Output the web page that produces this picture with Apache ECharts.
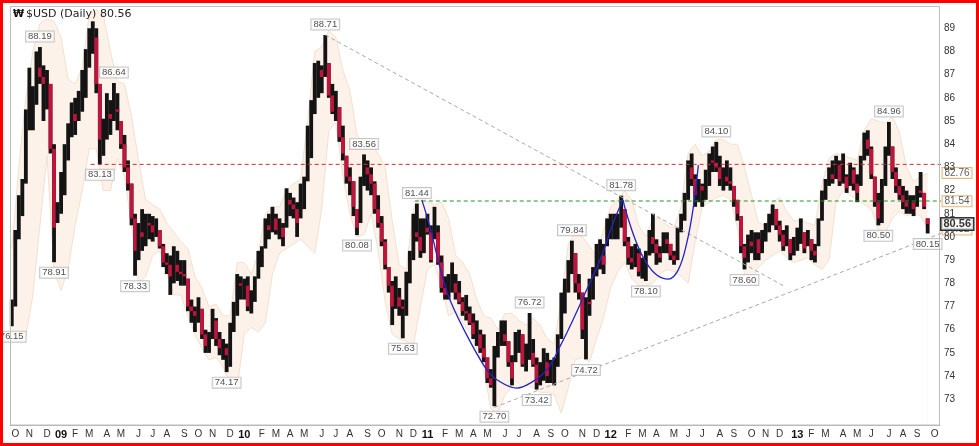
<!DOCTYPE html>
<html><head><meta charset="utf-8">
<script src="https://cdn.jsdelivr.net/npm/echarts@6/dist/echarts.min.js"></script>
<style>html,body{margin:0;padding:0;background:#fff}#c{width:979px;height:446px}</style>
</head><body><div id="c"></div>
<script>
// ---------- data ----------
const weekStart = '2008-09-22';      // Monday of the first weekly bar
const padWeeks = 3;                  // empty weeks to the right of the last bar
const monthLetters = ['J','F','M','A','M','J','J','A','S','O','N','D'];
const yTicks = [73,74,75,76,77,78,79,80,81,82,83,84,85,86,87,88,89];
const firstOpen = 76.3;

const weekHigh = [
77.3,80.3,81.8,82.5,85.5,87.3,86.5,88.0,88.19,87.4,
87.2,86.6,84.0,81.5,82.8,84.0,84.9,85.8,86.0,86.3,
87.2,88.1,89.0,89.3,89.0,86.6,85.1,86.2,85.9,86.64,
86.2,85.0,84.4,83.3,82.3,81.0,80.6,81.2,81.0,81.0,
80.9,80.8,80.3,79.7,79.3,79.2,79.6,79.4,79.0,79.0,
78.2,77.3,77.0,77.4,76.9,76.0,75.9,76.9,76.5,75.9,
75.6,75.4,76.3,77.2,78.4,78.3,78.2,78.3,77.7,78.3,
79.4,79.6,80.8,81.0,81.3,81.0,80.8,80.6,82.1,81.9,
81.7,81.5,82.3,82.6,84.8,85.9,87.5,87.6,87.4,88.71,
87.5,86.6,86.3,85.6,84.8,83.5,83.0,82.4,81.2,82.6,
83.56,83.3,83.0,82.4,81.8,80.9,79.9,78.7,78.1,78.3,
77.8,77.3,78.5,79.4,81.0,81.44,80.8,80.8,81.0,80.5,
81.3,80.5,79.2,78.3,78.4,78.9,78.4,78.1,77.4,77.5,
77.0,76.7,76.4,76.0,75.8,74.8,74.3,75.3,75.9,76.4,
76.4,75.5,74.9,75.9,76.0,75.8,75.4,76.72,75.6,74.8,
74.6,75.2,75.0,74.7,74.8,75.8,77.6,78.2,79.0,79.84,
79.3,78.4,77.6,77.4,78.2,78.7,79.7,79.9,79.7,80.8,
81.0,81.0,81.0,81.78,81.2,80.0,79.6,79.7,79.5,79.1,
79.4,80.3,81.0,79.9,79.6,80.2,80.2,79.7,79.4,80.4,
81.0,81.9,83.3,83.6,82.7,82.5,82.3,82.9,83.6,83.9,
84.10,83.5,83.0,83.3,83.0,82.2,81.6,80.9,79.7,80.1,
80.3,80.2,80.2,80.3,80.6,81.0,81.4,81.2,80.7,80.3,
80.5,79.9,80.0,80.4,80.8,80.2,80.3,79.9,79.7,80.8,
82.0,82.5,83.0,83.3,83.5,83.3,83.6,82.7,83.2,83.0,
82.7,83.5,84.5,84.6,83.9,82.6,81.9,82.5,83.9,84.96,
83.9,83.0,82.5,82.2,82.0,81.8,81.8,82.2,82.8,81.9,
80.8];

const weekLow = [
76.15,77.0,79.9,80.9,82.3,84.6,84.6,85.7,86.6,85.0,
85.5,83.6,78.91,80.6,81.0,81.8,83.3,84.3,84.4,85.0,
85.4,86.0,87.3,87.9,86.2,83.13,83.5,84.2,84.4,85.0,
84.6,83.8,82.8,82.0,80.5,78.33,79.0,79.4,79.6,79.9,
79.8,80.0,79.5,78.7,78.4,77.5,78.0,78.1,77.9,77.9,
76.8,76.3,75.9,76.3,75.6,75.0,75.0,75.6,75.3,74.9,
74.7,74.17,74.4,75.9,76.6,77.3,77.3,76.8,76.7,77.2,
78.2,78.7,79.5,79.9,80.2,80.1,79.9,79.6,80.4,80.9,
80.8,80.0,80.8,81.2,82.4,83.4,85.3,86.0,86.2,86.9,
86.0,85.3,85.0,84.1,83.3,82.3,81.8,80.9,80.08,80.6,
82.2,82.0,81.8,81.0,80.4,79.6,78.6,77.6,76.2,76.9,
76.6,75.63,76.6,78.0,79.0,79.8,79.1,79.3,80.1,78.9,
79.9,78.8,77.6,77.3,77.3,77.6,77.3,77.1,76.6,76.4,
76.2,75.6,75.3,75.0,74.6,73.7,73.5,72.70,74.8,75.3,
75.3,74.4,73.6,74.6,75.0,74.4,74.2,74.7,74.4,73.42,
73.6,73.8,73.7,73.7,73.6,74.4,75.6,76.7,77.6,78.4,
77.6,77.3,75.6,74.72,76.6,77.3,78.3,78.6,78.4,79.6,
79.9,79.9,79.9,80.4,79.6,78.8,78.6,78.7,78.3,78.2,
78.10,79.2,79.3,78.8,78.9,79.3,79.3,79.0,78.8,79.0,
80.2,80.7,81.6,82.2,81.3,81.5,81.3,81.6,82.2,82.8,
82.8,82.2,82.0,82.2,82.0,81.3,80.7,79.3,78.60,78.9,
79.3,79.0,79.0,79.3,79.8,80.2,80.5,80.3,79.8,79.4,
79.6,79.0,79.2,79.4,79.7,79.3,79.6,79.0,78.9,79.6,
80.7,81.6,82.2,82.3,82.5,82.2,82.3,81.9,82.2,82.0,
81.5,82.2,83.3,83.5,82.5,81.3,80.50,80.6,82.2,83.5,
82.5,81.9,81.6,81.2,81.0,81.0,80.9,81.3,81.7,81.2,
80.15];

const weekClose = [
77.0,80.0,81.5,82.3,85.2,85.5,86.0,87.3,86.9,86.6,
86.6,83.8,80.4,81.2,82.5,83.5,84.5,85.3,85.0,86.0,
86.5,87.8,88.6,88.6,86.6,84.2,84.5,85.3,85.1,85.5,
85.4,84.0,83.0,82.3,80.8,79.4,80.2,80.0,80.6,80.5,
80.2,80.4,79.6,78.9,78.8,78.3,78.8,78.5,78.4,78.3,
77.0,76.8,76.6,76.9,75.8,75.3,75.5,76.4,75.6,75.2,
75.2,74.9,76.0,76.9,78.0,77.9,77.9,77.0,77.4,78.0,
79.2,79.5,80.5,80.3,80.8,80.3,80.4,80.0,81.6,81.4,
81.2,80.6,82.0,82.4,84.6,85.5,86.5,87.2,86.9,88.2,
86.1,85.4,85.7,84.3,83.6,82.6,82.4,81.3,80.4,82.3,
83.0,82.7,82.3,81.2,80.6,79.8,78.8,77.9,77.0,77.4,
77.0,76.9,78.1,79.2,80.2,80.0,79.4,80.4,80.2,79.0,
80.2,78.9,77.8,77.5,78.0,78.0,77.6,77.2,76.8,76.7,
76.3,75.8,75.8,75.2,74.8,73.9,73.6,75.0,75.5,75.8,
75.5,74.6,73.9,75.6,75.8,74.5,75.0,75.0,74.5,73.7,
74.3,74.6,74.0,74.2,74.4,75.6,77.0,77.3,78.6,79.3,
78.0,77.6,76.0,77.2,77.1,78.4,79.1,79.2,78.8,80.3,
80.3,80.5,80.6,81.2,79.8,79.1,78.9,79.3,78.5,78.9,
79.2,80.0,79.7,79.3,79.1,79.9,79.7,79.2,79.0,80.3,
80.9,81.6,83.0,82.5,81.8,82.2,82.0,82.7,83.3,83.2,
83.0,82.5,82.6,82.4,82.3,81.6,81.0,79.6,79.1,79.8,
79.6,79.9,79.3,80.0,80.4,80.8,81.2,80.5,80.1,79.6,
80.2,79.3,79.7,80.0,80.2,79.5,80.0,79.4,79.2,80.5,
81.7,82.3,82.7,82.5,83.1,82.4,82.6,82.1,82.9,82.3,
81.9,83.3,84.2,83.8,82.7,81.5,80.8,82.2,83.7,84.2,
82.8,82.2,81.8,81.5,81.3,81.5,81.2,82.0,81.9,81.3,
80.56];

// Bollinger band edges, one reading every 2 weeks
const bandUpper = [
79.5,83.0,86.0,88.0,89.2,89.4,89.3,88.6,86.8,86.6,
87.3,89.6,89.8,89.6,88.0,86.7,86.6,85.2,83.3,81.6,
81.4,81.2,80.6,80.2,79.8,79.5,78.3,77.8,77.0,77.1,
76.6,76.6,78.9,78.9,78.4,79.3,81.0,81.3,81.3,82.0,
82.3,82.5,85.0,88.0,88.2,88.9,88.6,87.2,86.3,84.4,
84.0,84.0,83.6,83.0,80.7,78.8,78.6,81.2,81.9,81.5,
81.4,81.5,80.8,79.2,78.9,78.4,77.3,76.6,76.5,76.0,
76.7,76.7,76.4,76.2,76.5,76.2,75.6,75.4,77.3,79.7,
80.2,80.0,79.6,79.2,80.3,81.3,81.6,82.0,81.6,80.5,
80.0,80.8,80.8,80.5,80.4,81.3,83.6,84.0,83.5,83.7,
84.2,84.2,84.0,84.0,83.0,81.8,80.6,80.5,81.5,81.7,
81.1,80.7,80.7,80.6,80.5,82.3,83.4,83.6,83.5,83.4,
83.3,84.6,85.1,85.0,84.9,85.2,84.5,83.0,82.4,82.6,
82.76];
const bandLower = [
75.9,75.5,75.7,77.5,80.5,83.5,78.5,77.7,78.6,80.5,
82.0,83.8,83.8,82.0,82.0,83.4,82.6,80.5,78.0,78.3,
79.2,79.4,78.4,77.5,77.5,76.6,75.8,75.2,74.7,74.8,
74.4,73.6,73.5,75.8,76.1,75.9,76.3,78.4,79.3,79.5,
79.7,79.9,79.6,79.3,81.2,84.6,84.9,82.6,81.0,80.0,
80.1,81.0,79.4,77.2,75.8,75.6,75.5,75.3,77.0,78.6,
78.8,77.8,76.6,76.8,76.3,75.9,75.2,74.3,72.6,72.4,
73.2,73.5,73.5,73.6,73.5,73.3,73.3,73.2,72.4,73.5,
74.7,74.8,74.6,75.6,76.5,77.8,78.5,78.9,78.2,77.9,
77.9,78.0,78.4,78.6,78.5,78.3,78.0,79.8,81.3,81.5,
81.7,81.8,81.6,80.4,78.4,78.2,78.7,79.0,79.2,79.4,
79.1,78.9,79.0,79.1,78.8,78.6,79.0,81.5,82.0,81.8,
81.6,81.4,81.2,80.3,80.2,80.8,81.1,80.9,81.0,80.9,
80.32];

// annotated highs / lows: [week index, price]
const peakLabels = [[8,88.19],[29,86.64],[89,88.71],[100,83.56],[115,81.44],[147,76.72],[159,79.84],[173,81.78],[200,84.10],[249,84.96]];
const troughLabels = [[0,76.15],[12,78.91],[25,83.13],[35,78.33],[61,74.17],[98,80.08],[111,75.63],[137,72.70],[149,73.42],[163,74.72],[180,78.10],[208,78.60],[246,80.50],[260,80.15]];

// drawn lines: [week index, price]
const redLevel = [[22.4,83.13],[275,83.13]];
const greenLevel = [[114.4,81.55],[275,81.55]];
const downTrend = [[89,88.71],[219.5,77.86]];
const upTrend = [[137,72.65],[275,80.82]];
const cupCurve = [[116.4,81.6],[118.7,80.44],[121.5,78.72],[124.4,77.28],[130.9,75.27],[135.2,74.2],[137.7,73.84],[143.4,73.48],[147.1,73.69],[151.9,74.27],[155.6,75.27],[159.3,76.42],[163.2,77.72],[167,79.01],[170.7,80.59],[173.5,81.6]];
const handleCurve = [[173.5,81.6],[174.5,81.02],[177.4,79.73],[180.2,78.87],[183.1,78.36],[186.4,78.18],[189.2,78.58],[191.6,79.73],[193.5,81.31],[194.9,83.1]];

// last values shown on the price axis
const bandValueBoxes = [82.76, 81.54, 80.32];
const lastClose = 80.56;
const titleText = '$USD (Daily) 80.56';

// ---------- build ----------
const nWeeks = weekClose.length + padWeeks;
const t0 = Date.parse(weekStart);
const DAY = 864e5;
const categories = [];
for (let i = 0; i < nWeeks; i++) categories.push(new Date(t0 + i * 7 * DAY).toISOString().slice(0, 10));

function weekMonthInfo(i) {
  const d0 = new Date(Date.parse(categories[i]));
  const d6 = new Date(d0.getTime() + 6 * DAY);
  return {
    start: d0.getUTCDate() === 1 || d6.getUTCMonth() !== d0.getUTCMonth(),
    month: d6.getUTCMonth(), year: d6.getUTCFullYear()
  };
}

// [index, open, close, low, high]
const bars = weekClose.map((c, i) => {
  let o = i === 0 ? firstOpen : weekClose[i - 1];
  o = Math.min(Math.max(o, weekLow[i]), weekHigh[i]);
  return [i, o, c, weekLow[i], weekHigh[i]];
});
const upperPts = bandUpper.map((v, k) => [2 * k, v]);
const lowerPts = bandLower.map((v, k) => [2 * k, v]);
const xMax = nWeeks - 0.5;

const UP = '#141414', DOWN = '#c0143c';
function renderBar(params, api) {
  const x = api.value(0), o = api.value(1), c = api.value(2), lo = api.value(3), hi = api.value(4);
  const pLo = api.coord([x, lo]), pHi = api.coord([x, hi]);
  const w = api.size([1, 0])[0] + 0.3;
  const children = [{
    type: 'rect', shape: { x: pLo[0] - w / 2, y: pHi[1], width: w, height: Math.max(1, pLo[1] - pHi[1]) },
    style: { fill: UP }
  }];
  if (c < o) {
    const pO = api.coord([x, o]), pC = api.coord([x, c]);
    children.push({
      type: 'rect', shape: { x: pO[0] - w / 2, y: pO[1], width: w, height: Math.max(1, pC[1] - pO[1]) },
      style: { fill: DOWN }
    });
  }
  return { type: 'group', children };
}

const FONT = 'Liberation Sans';
const boxLabel = (pos) => ({
  show: true, position: pos, distance: 5,
  formatter: p => p.value[1].toFixed(2),
  fontFamily: FONT, fontSize: 9.5, lineHeight: 10, color: '#222',
  backgroundColor: '#fff', borderColor: '#b8b8b8', borderWidth: 1, padding: [0, 2, 0, 2]
});
const dashLine = (name, data, color, z) => ({
  name, type: 'line', xAxisIndex: 1, data, symbol: 'none', clip: false, silent: true, z,
  lineStyle: { color, width: 1, type: [4, 3] }
});

const chart = echarts.init(document.getElementById('c'), null, { renderer: 'canvas' });
chart.setOption({
  animation: false,
  backgroundColor: '#fff',
  grid: { left: 10, right: 39, top: 6, bottom: 21, show: false },
  xAxis: [{
    type: 'category', data: categories, boundaryGap: true, z: 10,
    axisLine: { show: true, lineStyle: { color: '#b4b4b4', width: 1 } },
    axisTick: { show: false }, splitLine: { show: false },
    axisLabel: {
      interval: (idx) => weekMonthInfo(idx).start,
      formatter: (v, idx) => {
        const m = weekMonthInfo(idx);
        return m.month === 0 ? '{yr|' + String(m.year % 100).padStart(2, '0') + '}' : monthLetters[m.month];
      },
      margin: 4, fontFamily: FONT, fontSize: 10, color: '#333',
      rich: { yr: { fontFamily: FONT, fontSize: 11, fontWeight: 'bold', color: '#111' } }
    }
  }, {
    type: 'value', min: -0.5, max: xMax, show: false
  }],
  yAxis: {
    type: 'value', position: 'right', min: 71.89, max: 89.96, z: 10,
    axisLine: { show: false }, axisTick: { show: false }, splitLine: { show: false },
    axisLabel: { customValues: yTicks, margin: 4, fontFamily: FONT, fontSize: 10, color: '#333' }
  },
  series: [
    { name: 'bbUpper', type: 'line', xAxisIndex: 1, data: upperPts, symbol: 'none', z: 1, silent: true,
      lineStyle: { color: '#f3e1d0', width: 1 }, areaStyle: { color: '#fcf2e9', opacity: 1, origin: 'start' } },
    { name: 'bbLower', type: 'line', xAxisIndex: 1, data: lowerPts, symbol: 'none', z: 1, silent: true,
      lineStyle: { color: '#f3e1d0', width: 1 }, areaStyle: { color: '#ffffff', opacity: 1, origin: 'start' } },
    { name: '$USD', type: 'custom', data: bars, z: 3, silent: true, renderItem: renderBar,
      encode: { x: 0, y: [3, 4] } },
    dashLine('red', redLevel, '#c83232', 4),
    dashLine('green', greenLevel, '#1f961f', 4),
    dashLine('down', downTrend, '#a8a8a8', 4),
    dashLine('up', upTrend, '#a8a8a8', 4),
    { name: 'cup', type: 'line', xAxisIndex: 1, data: cupCurve, symbol: 'none', smooth: 0.4, z: 5, silent: true,
      lineStyle: { color: '#2323c8', width: 1.3 } },
    { name: 'handle', type: 'line', xAxisIndex: 1, data: handleCurve, symbol: 'none', smooth: 0.4, z: 5, silent: true,
      lineStyle: { color: '#2323c8', width: 1.3 } },
    { name: 'peaks', type: 'scatter', xAxisIndex: 1, data: peakLabels, symbolSize: 1, clip: false, z: 6,
      itemStyle: { color: 'rgba(0,0,0,0)' }, label: boxLabel('top') },
    { name: 'troughs', type: 'scatter', xAxisIndex: 1, data: troughLabels, symbolSize: 1, clip: false, z: 6,
      itemStyle: { color: 'rgba(0,0,0,0)' }, label: boxLabel('bottom') },
    { name: 'bandBoxes', type: 'scatter', xAxisIndex: 1, data: bandValueBoxes.map(v => [xMax, v]), symbolSize: 1, clip: false, z: 7,
      itemStyle: { color: 'rgba(0,0,0,0)' },
      label: { show: true, position: 'right', distance: 2, formatter: p => p.value[1].toFixed(2),
        fontFamily: FONT, fontSize: 10, lineHeight: 10, color: '#333', backgroundColor: '#fff',
        borderColor: '#d9a95c', borderWidth: 1, padding: [0, 2, 0, 2] } },
    { name: 'close', type: 'scatter', xAxisIndex: 1, data: [[xMax, lastClose]], symbolSize: 1, clip: false, z: 8,
      itemStyle: { color: 'rgba(0,0,0,0)' },
      label: { show: true, position: 'right', distance: 1, formatter: p => p.value[1].toFixed(2),
        fontFamily: FONT, fontSize: 11, fontWeight: 'bold', lineHeight: 11, color: '#000', backgroundColor: '#fff',
        borderColor: '#000', borderWidth: 1.5, padding: [0, 2, 0, 2] } }
  ],
  graphic: [
    { type: 'rect', z: 50, silent: true, shape: { x: 10.5, y: 6.5, width: 929, height: 418.5 },
      style: { fill: null, stroke: '#bdbdbd', lineWidth: 1 } },
    { type: 'text', z: 60, x: 13, y: 14, silent: true,
      style: { text: '\u20A9', font: 'bold 10px "DejaVu Sans"', fill: '#111', textVerticalAlign: 'middle' } },
    { type: 'text', z: 60, x: 26, y: 14, silent: true,
      style: { text: titleText, font: '11px "DejaVu Sans"', fill: '#222', textVerticalAlign: 'middle' } },
    { type: 'rect', z: 100, silent: true, shape: { x: 1.5, y: 1.5, width: 976, height: 443 },
      style: { fill: null, stroke: '#ff0000', lineWidth: 3 } }
  ]
});
</script></body></html>
